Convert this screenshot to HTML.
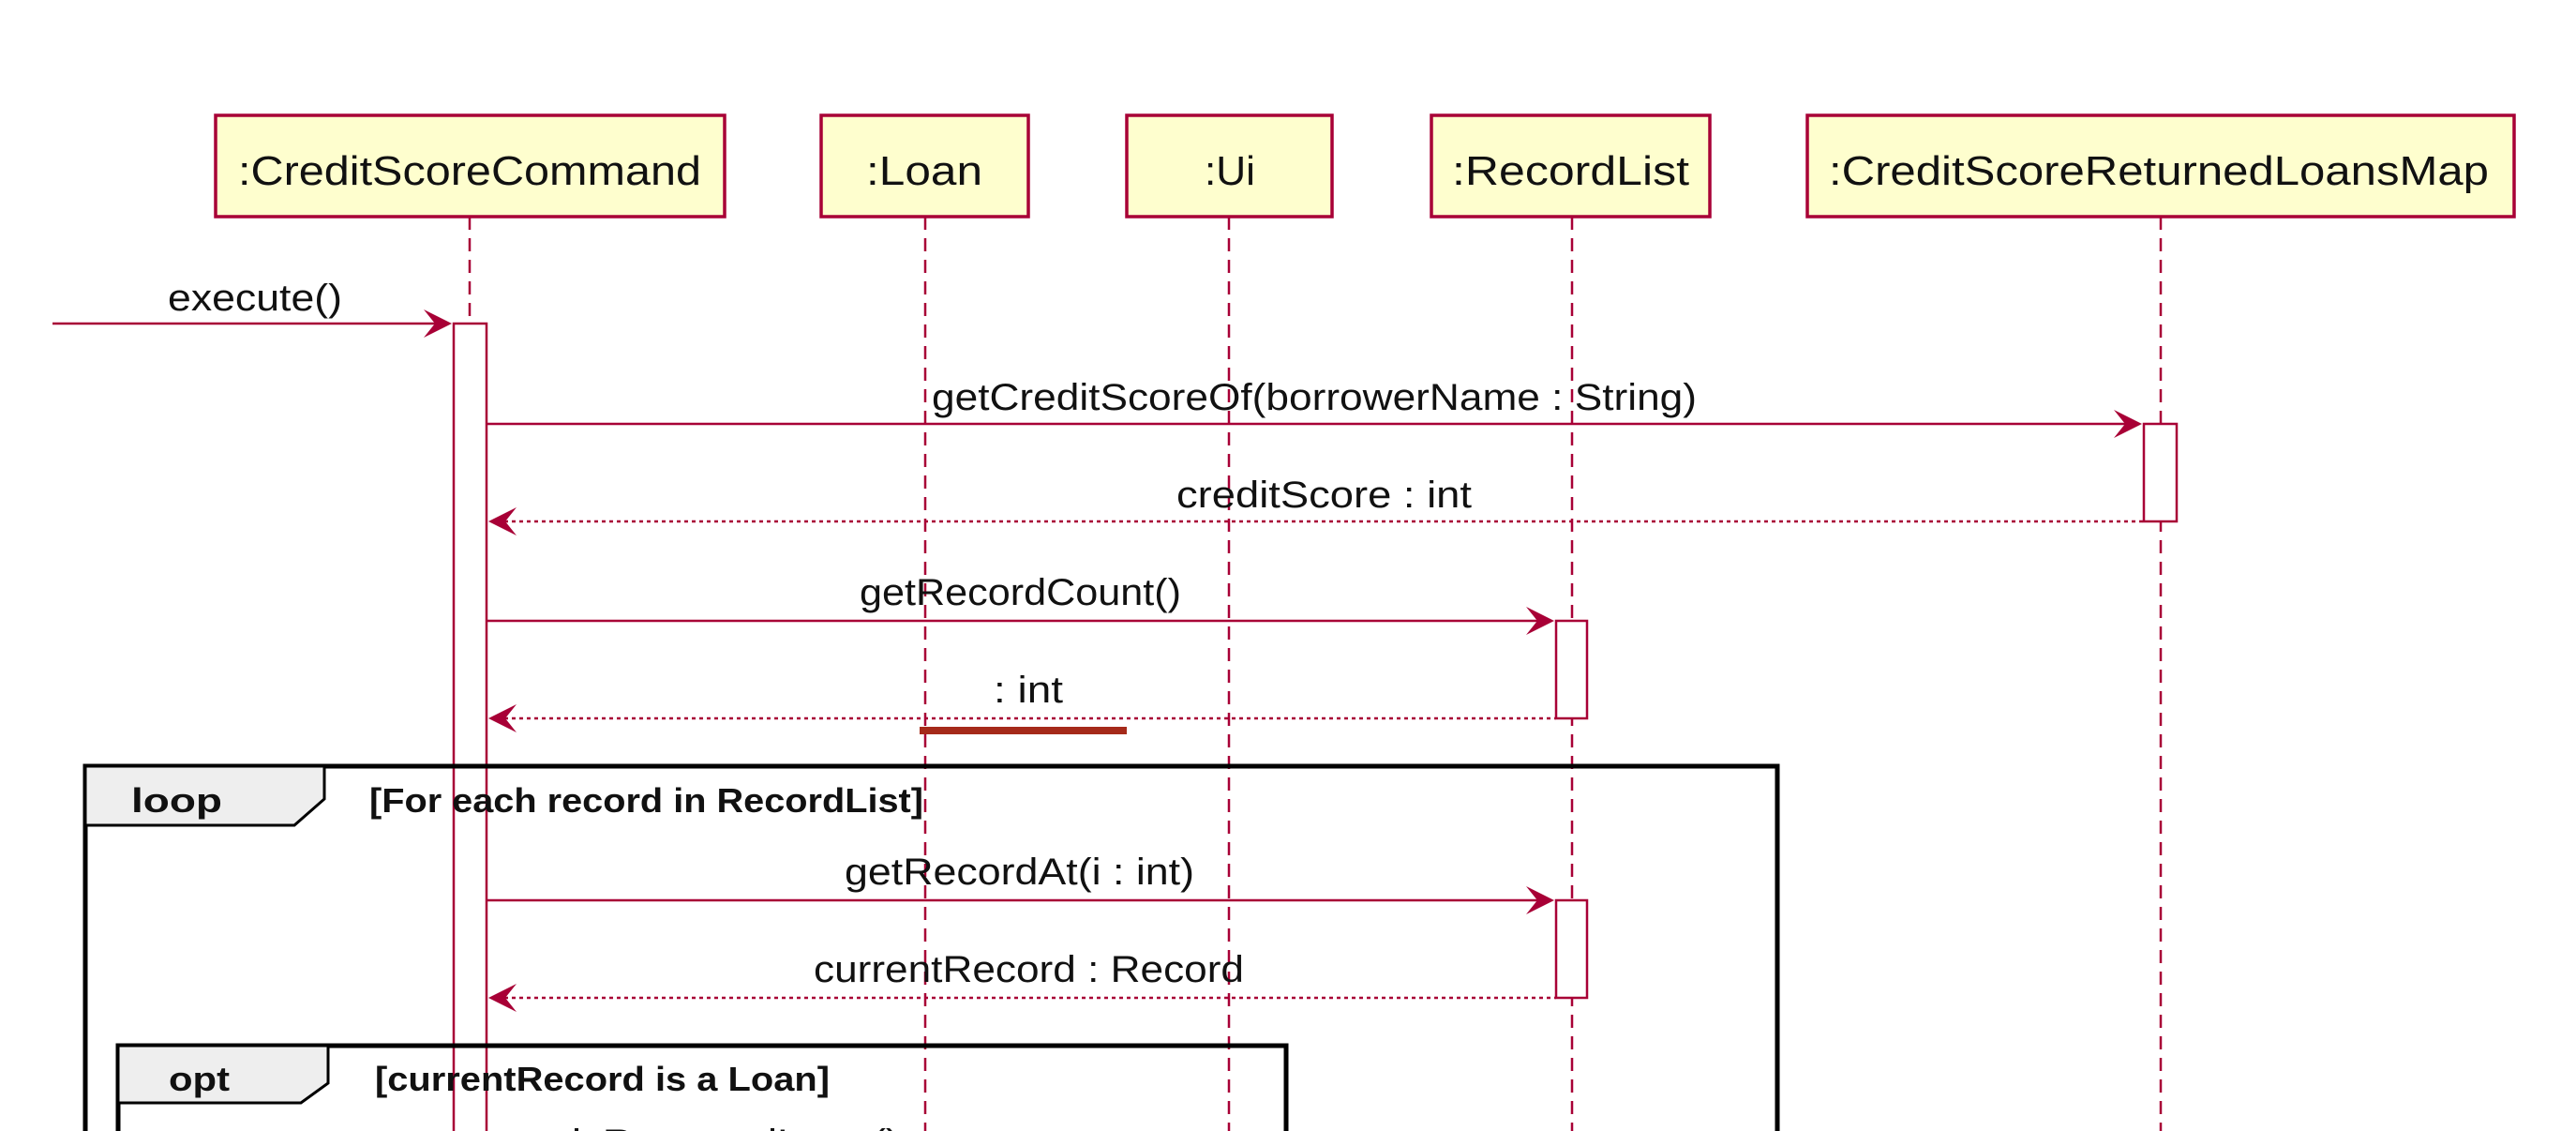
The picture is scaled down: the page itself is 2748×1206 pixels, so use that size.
<!DOCTYPE html>
<html><head><meta charset="utf-8"><style>
html,body{margin:0;padding:0;background:#fff;width:2748px;height:1206px;overflow:hidden;}
svg{display:block;}
text{font-family:"Liberation Sans",sans-serif;fill:#111;}
</style></head><body>
<svg width="2748" height="1206" viewBox="0 0 2748 1206" xmlns="http://www.w3.org/2000/svg">
<rect width="2748" height="1206" fill="#fff"/>
<g stroke="#A80036" stroke-width="2.5" stroke-dasharray="14,9" fill="none">
<line x1="501" y1="231" x2="501" y2="1206"/>
<line x1="987" y1="231" x2="987" y2="1206"/>
<line x1="1311" y1="231" x2="1311" y2="1206"/>
<line x1="1677" y1="231" x2="1677" y2="1206"/>
<line x1="2305" y1="231" x2="2305" y2="1206"/>
</g>
<g fill="#FEFECE" stroke="#A80036" stroke-width="3.5">
<rect x="230" y="123" width="543" height="108"/>
<rect x="876" y="123" width="221" height="108"/>
<rect x="1202" y="123" width="219" height="108"/>
<rect x="1527" y="123" width="297" height="108"/>
<rect x="1928" y="123" width="754" height="108"/>
</g>
<g font-size="44">
<text x="254" y="197" textLength="494" lengthAdjust="spacingAndGlyphs">:CreditScoreCommand</text>
<text x="924" y="197" textLength="124" lengthAdjust="spacingAndGlyphs">:Loan</text>
<text x="1285" y="197" textLength="54" lengthAdjust="spacingAndGlyphs">:Ui</text>
<text x="1549" y="197" textLength="253" lengthAdjust="spacingAndGlyphs">:RecordList</text>
<text x="1951" y="197" textLength="704" lengthAdjust="spacingAndGlyphs">:CreditScoreReturnedLoansMap</text>
</g>
<g fill="#fff" stroke="#A80036" stroke-width="2.5">
<rect x="484" y="345" width="35" height="865"/>
<rect x="2287" y="452" width="35" height="104"/>
<rect x="1660" y="662" width="33" height="104"/>
<rect x="1660" y="960" width="33" height="104"/>
</g>
<g stroke="#000" fill="none">
<path d="M91,1210 L91,817 L1896,817 L1896,1210" stroke-width="5"/>
<path d="M91,817 L346,817 L346,852 L314,880 L91,880 Z" fill="#EEEEEE" stroke-width="3"/>
<path d="M126,1210 L126,1115 L1372,1115 L1372,1210" stroke-width="5"/>
<path d="M126,1115 L350,1115 L350,1155 L321,1176 L126,1176 Z" fill="#EEEEEE" stroke-width="3"/>
</g>
<g font-size="36" font-weight="bold">
<text x="140" y="866" textLength="97" lengthAdjust="spacingAndGlyphs">loop</text>
<text x="394" y="866" textLength="591" lengthAdjust="spacingAndGlyphs">[For each record in RecordList]</text>
<text x="180" y="1163" textLength="65" lengthAdjust="spacingAndGlyphs">opt</text>
<text x="400" y="1163" textLength="485" lengthAdjust="spacingAndGlyphs">[currentRecord is a Loan]</text>
</g>
<g stroke="#A80036" stroke-width="2.5" fill="none">
<line x1="56" y1="345" x2="470" y2="345"/>
<line x1="519" y1="452" x2="2275" y2="452"/>
<line x1="519" y1="662" x2="1648" y2="662"/>
<line x1="519" y1="960" x2="1648" y2="960"/>
<g stroke-dasharray="4,4">
<line x1="530" y1="556" x2="2287" y2="556"/>
<line x1="530" y1="766" x2="1660" y2="766"/>
<line x1="530" y1="1064" x2="1660" y2="1064"/>
</g>
</g>
<g fill="#A80036">
<polygon points="482,345 452,330 464,345 452,360"/>
<polygon points="2285,452 2255,437 2267,452 2255,467"/>
<polygon points="1658,662 1628,647 1640,662 1628,677"/>
<polygon points="1658,960 1628,945 1640,960 1628,975"/>
<polygon points="521,556 551,541 539,556 551,571"/>
<polygon points="521,766 551,751 539,766 551,781"/>
<polygon points="521,1064 551,1049 539,1064 551,1079"/>
</g>
<rect x="981" y="775" width="221" height="8" fill="#A52A1A"/>
<g font-size="40">
<text x="179" y="331" textLength="186" lengthAdjust="spacingAndGlyphs">execute()</text>
<text x="994" y="437" textLength="816" lengthAdjust="spacingAndGlyphs">getCreditScoreOf(borrowerName : String)</text>
<text x="1255" y="541" textLength="315" lengthAdjust="spacingAndGlyphs">creditScore : int</text>
<text x="917" y="645" textLength="343" lengthAdjust="spacingAndGlyphs">getRecordCount()</text>
<text x="1060" y="749" textLength="74" lengthAdjust="spacingAndGlyphs">: int</text>
<text x="901" y="943" textLength="373" lengthAdjust="spacingAndGlyphs">getRecordAt(i : int)</text>
<text x="868" y="1047" textLength="459" lengthAdjust="spacingAndGlyphs">currentRecord : Record</text>
<text x="610" y="1232" textLength="350" lengthAdjust="spacingAndGlyphs">isReturnedLoan()</text>
</g>
</svg>
</body></html>
